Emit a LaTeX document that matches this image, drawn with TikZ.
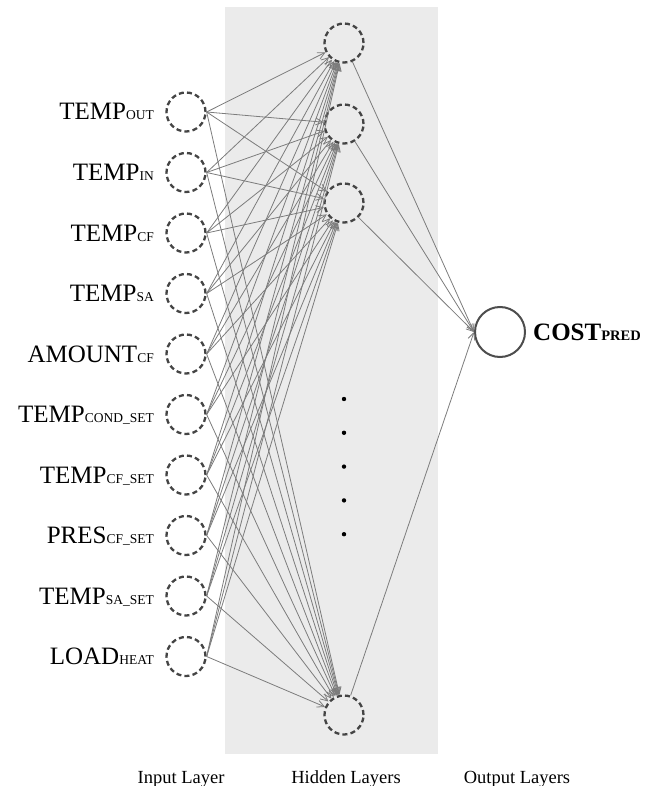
\documentclass[tikz,border=0pt]{standalone}
\usepackage{fontspec}
\setmainfont{Liberation Serif}
\usetikzlibrary{arrows.meta}

\definecolor{panel}{HTML}{EBEBEB}
\definecolor{ring}{HTML}{444444}
\definecolor{wire}{HTML}{7C7C7C}

% small capitals set on the baseline after a variable name
\newcommand\sublbl[1]{{\fontsize{13.5}{14}\selectfont #1}}

\tikzset{
  neuron/.style={circle, draw=ring, line width=2.3pt,
    dash pattern=on 5pt off 3.2pt, minimum size=39pt, inner sep=0pt},
  outneuron/.style={circle, draw=ring!95, line width=2pt,
    minimum size=50pt, inner sep=0pt},
  wire/.style={draw=wire, line width=0.8pt,
    -{Straight Barb[length=7pt,width=7pt]}},
  inlabel/.style={anchor=base east, inner sep=0pt,
    font=\fontsize{25}{26}\selectfont},
  layerlabel/.style={anchor=base, inner sep=0pt,
    font=\fontsize{18.5}{19}\selectfont},
  dotmark/.style={circle, fill=black, inner sep=0pt, minimum size=4.4pt}
}

\begin{document}
\begin{tikzpicture}[x=1pt, y=-1pt]
  \useasboundingbox (0,0) rectangle (658,786);

  % hidden-layer panel
  \fill[panel] (225,7) rectangle (438,754);

  % input layer
  \foreach \i/\txt in {1/TEMP\sublbl{OUT}, 2/TEMP\sublbl{IN}, 3/TEMP\sublbl{CF},
      4/TEMP\sublbl{SA}, 5/AMOUNT\sublbl{CF}, 6/TEMP\sublbl{COND\_SET},
      7/TEMP\sublbl{CF\_SET}, 8/PRES\sublbl{CF\_SET}, 9/TEMP\sublbl{SA\_SET},
      10/LOAD\sublbl{HEAT}} {
    \pgfmathsetmacro\yy{112+60.5*(\i-1)}
    \node[neuron] (in\i) at (186,\yy) {};
    \node[inlabel] (lab\i) at (154,\yy+8) {\txt};
  }

  % hidden layer
  \node[neuron] (h1) at (344,43) {};
  \node[neuron] (h2) at (344,124) {};
  \node[neuron] (h3) at (344,203) {};
  \node[neuron] (h4) at (344,715) {};
  \foreach \k in {0,...,4}
    \node[dotmark] (dot\k) at (344,399+33.8*\k) {};

  % output layer
  \node[outneuron] (out) at (500,332) {};
  \node[anchor=base west, inner sep=0pt] (outlab) at (533,340)
    {\fontsize{25}{26}\selectfont\bfseries COST{\fontsize{14.5}{15}\selectfont PRED}};

  % connections
  \foreach \i in {1,...,10}
    \foreach \j in {1,...,4}
      \draw[wire] (in\i.east) -- (h\j);
  \foreach \j in {1,...,4}
    \draw[wire] (h\j) -- (out.west);

  % layer captions
  \node[layerlabel] (capin) at (181,783) {Input Layer};
  \node[layerlabel] (caphid) at (346,783) {Hidden Layers};
  \node[layerlabel] (capout) at (517,783) {Output Layers};
\end{tikzpicture}
\end{document}
